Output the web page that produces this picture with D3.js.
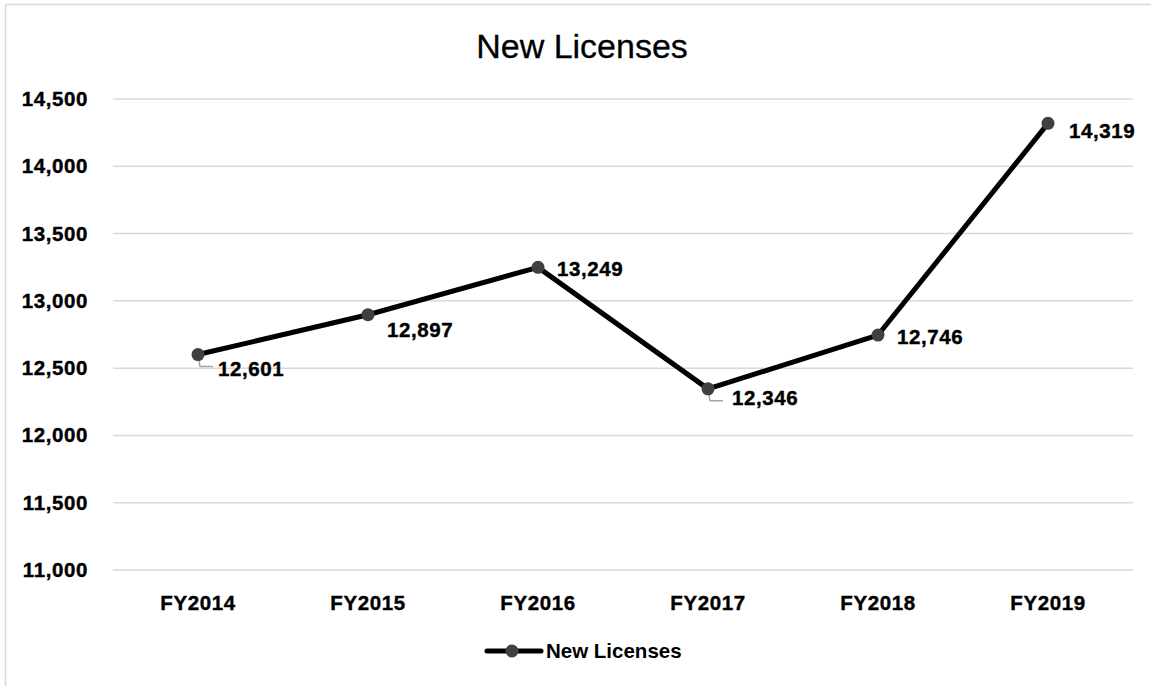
<!DOCTYPE html>
<html>
<head>
<meta charset="utf-8">
<script src="https://cdn.jsdelivr.net/npm/d3@7"></script>
<style>
  body { margin: 0; background: #fff; }
  text { font-family: "Liberation Sans", Arial, sans-serif; }
</style>
</head>
<body>
<script>
// Chart data
var years = ['FY2014', 'FY2015', 'FY2016', 'FY2017', 'FY2018', 'FY2019'];
var licenses = [12601, 12897, 13249, 12346, 12746, 14319];
var yTicks = [11000, 11500, 12000, 12500, 13000, 13500, 14000, 14500];

var w = 1151;
var h = 686;
var margin = {top: 99, right: 18, bottom: 116, left: 113};

var svg = d3.select('body')
  .append('svg')
  .attr('width', w)
  .attr('height', h);

// chart frame (only top and left edges are in view)
svg.append('path')
  .attr('d', 'M5.5,' + h + 'V4.5H' + w)
  .attr('fill', 'none')
  .attr('stroke', '#d9d9d9')
  .attr('stroke-width', 1.5);

var x = d3.scaleBand()
  .domain(years)
  .range([margin.left, w - margin.right]);

var y = d3.scaleLinear()
  .domain([11000, 14500])
  .range([h - margin.bottom, margin.top]);

// heavy label style used by ticks and data labels
function heavy(sel) {
  sel.attr('font-family', '"Liberation Sans", Arial, sans-serif')
    .attr('font-size', '20.5px')
    .attr('font-weight', 'bold')
    .attr('letter-spacing', '0.6px')
    .attr('fill', '#000')
    .attr('stroke', '#000')
    .attr('stroke-width', 0.4);
}

// gridlines
svg.append('g')
  .selectAll('line')
  .data(yTicks)
  .enter()
  .append('line')
  .attr('x1', margin.left)
  .attr('x2', w - margin.right)
  .attr('y1', function(d) { return y(d); })
  .attr('y2', function(d) { return y(d); })
  .attr('stroke', '#d9d9d9')
  .attr('stroke-width', 1.5);

// y axis labels
var yAxis = svg.append('g')
  .attr('transform', 'translate(' + (margin.left - 22) + ',0)')
  .call(d3.axisLeft(y).tickValues(yTicks).tickSize(0).tickFormat(d3.format(',')));
yAxis.select('.domain').remove();
yAxis.selectAll('text').call(heavy);

// x axis labels
var xAxis = svg.append('g')
  .attr('transform', 'translate(0,' + (h - margin.bottom + 22) + ')')
  .call(d3.axisBottom(x).tickSize(0));
xAxis.select('.domain').remove();
xAxis.selectAll('text').call(heavy);

function cx(i) { return x(years[i]) + x.bandwidth() / 2; }

// line
var line = d3.line()
  .x(function(d, i) { return cx(i); })
  .y(function(d) { return y(d); });

svg.append('path')
  .datum(licenses)
  .attr('d', line)
  .attr('fill', 'none')
  .attr('stroke', '#000')
  .attr('stroke-width', 5)
  .attr('stroke-linejoin', 'round');

// leader lines for labels pushed below the point
var leaders = [0, 3];
svg.append('g')
  .selectAll('path')
  .data(leaders)
  .enter()
  .append('path')
  .attr('d', function(i) {
    var px = cx(i), py = y(licenses[i]);
    return 'M' + px + ',' + py + 'L' + (px + 2) + ',' + (py + 12) + 'H' + (px + 15);
  })
  .attr('fill', 'none')
  .attr('stroke', '#a6a6a6')
  .attr('stroke-width', 1.5);

// markers
svg.append('g')
  .selectAll('circle')
  .data(licenses)
  .enter()
  .append('circle')
  .attr('cx', function(d, i) { return cx(i); })
  .attr('cy', function(d) { return y(d); })
  .attr('r', 6.5)
  .attr('fill', '#404040');

// data labels: offset from the point
var labelOffset = [[20, 14], [19, 15], [19, 1], [24, 9], [19, 1], [21, 7]];
svg.append('g')
  .selectAll('text')
  .data(licenses)
  .enter()
  .append('text')
  .attr('x', function(d, i) { return cx(i) + labelOffset[i][0]; })
  .attr('y', function(d, i) { return y(d) + labelOffset[i][1]; })
  .attr('dominant-baseline', 'central')
  .call(heavy)
  .text(function(d) { return d3.format(',')(d); });

// title
svg.append('text')
  .attr('x', 582)
  .attr('y', 58)
  .attr('text-anchor', 'middle')
  .attr('font-size', '34px')
  .attr('fill', '#000')
  .attr('stroke', '#000')
  .attr('stroke-width', 0.3)
  .text('New Licenses');

// legend
var lg = svg.append('g').attr('transform', 'translate(487,651)');
lg.append('line')
  .attr('x1', 0).attr('x2', 54)
  .attr('stroke', '#000')
  .attr('stroke-width', 5)
  .attr('stroke-linecap', 'round');
lg.append('circle')
  .attr('cx', 25)
  .attr('r', 6.5)
  .attr('fill', '#404040');
lg.append('text')
  .attr('x', 59)
  .attr('y', 7)
  .attr('font-size', '20.5px')
  .attr('font-weight', 'bold')
  .attr('fill', '#000')
  .text('New Licenses');
</script>
</body>
</html>
